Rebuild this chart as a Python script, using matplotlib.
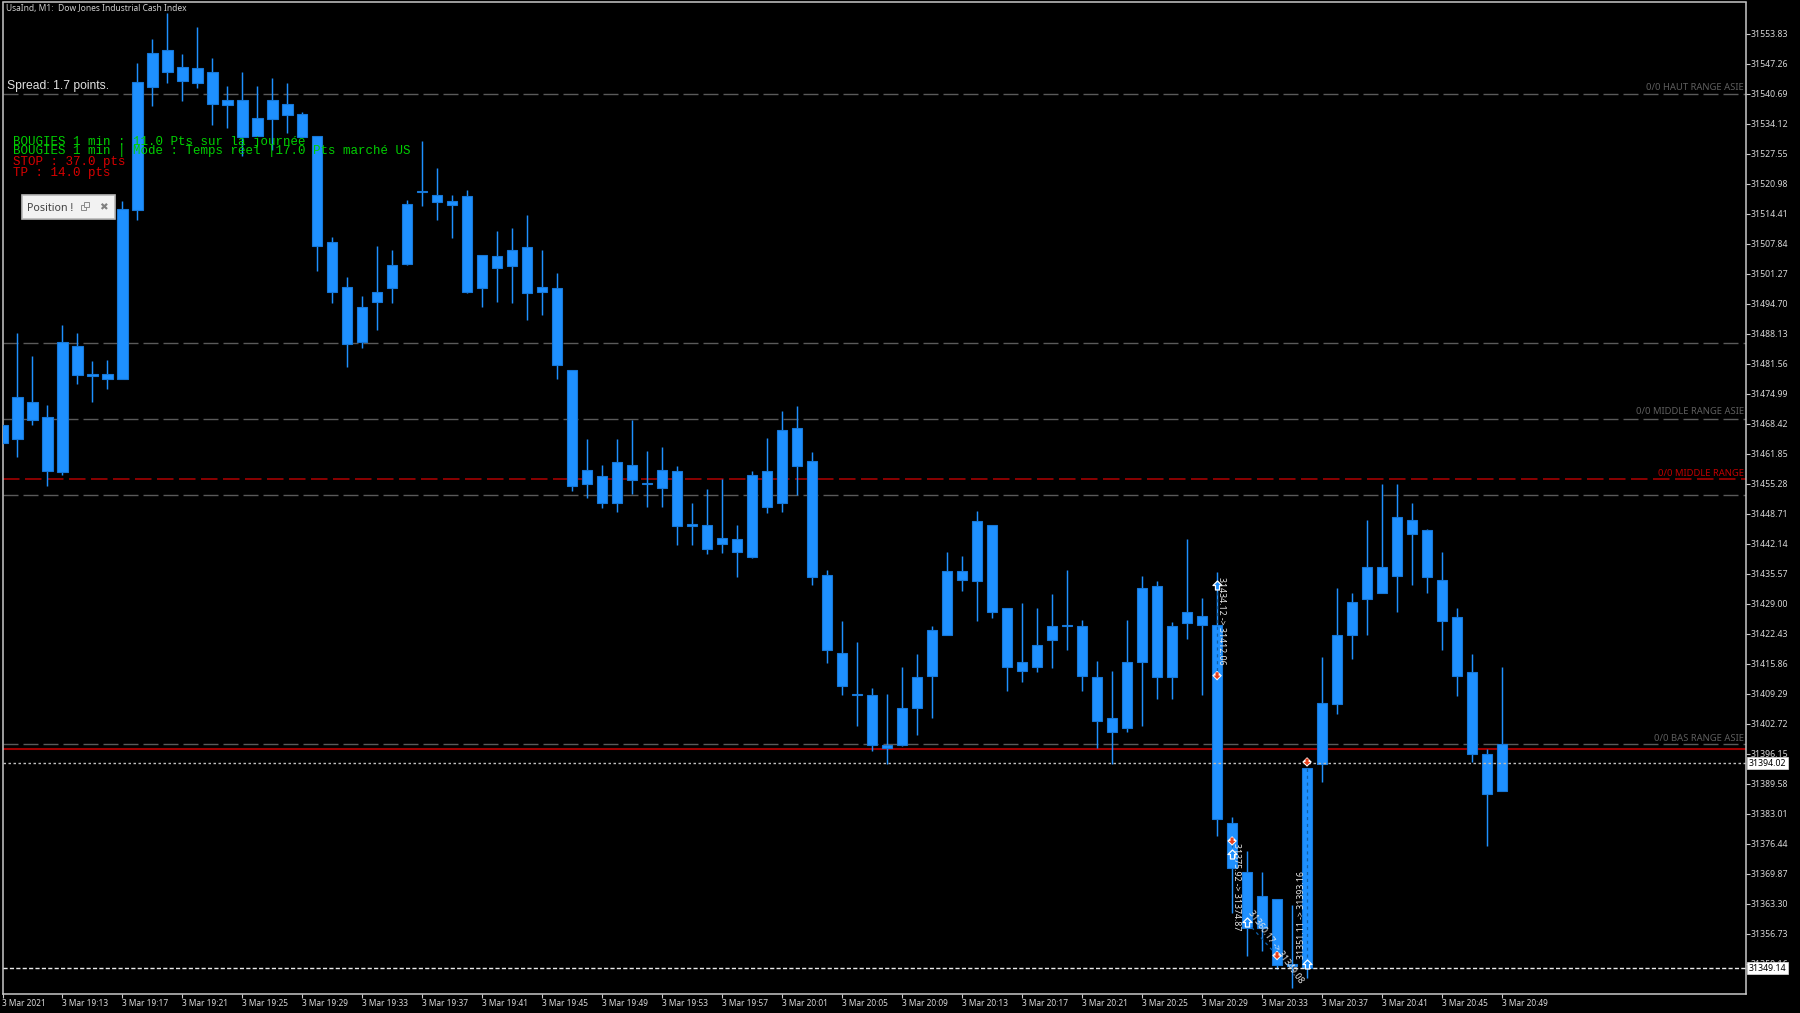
import matplotlib
matplotlib.use("Agg")
import matplotlib.pyplot as plt
from matplotlib.patches import Rectangle
from matplotlib.path import Path

# ---------- data (prices) ----------
high = [31468.1,31488.2,31483.3,31472.4,31490.1,31488.2,31482.1,31482.4,31517.2,31547.3,
        31552.6,31558.3,31549.3,31555.3,31548.4,31542.3,31545.4,31542.3,31544.0,31543.1,
        31536.6,31531.4,31509.2,31500.4,31496.3,31507.2,31506.4,31517.4,31530.2,31524.4,
        31518.4,31519.5,31505.3,31510.5,31511.2,31514.1,31506.4,31501.3,31480.2,31465.0,
        31459.3,31465.0,31469.2,31462.4,31463.2,31459.1,31451.0,31454.1,31456.2,31446.2,
        31458.1,31465.2,31471.2,31472.2,31462.1,31436.3,31425.1,31420.5,31410.5,31409.1,
        31415.1,31418.0,31424.0,31440.2,31439.4,31449.2,31446.2,31428.0,31429.1,31428.0,
        31431.1,31436.3,31425.4,31416.4,31414.2,31425.4,31435.0,31434.0,31425.0,31443.1,
        31430.2,31436.0,31382.3,31374.8,31370.2,31364.2,31363.0,31393.0,31417.2,31432.4,
        31431.3,31447.3,31455.2,31455.2,31451.0,31445.3,31440.2,31428.0,31418.0,31397.1,
        31415.1]
body_top = [31468.1,31474.3,31473.1,31469.9,31486.2,31485.4,31479.2,31479.2,31515.4,31543.3,
        31549.5,31550.2,31546.4,31546.2,31545.4,31539.2,31539.2,31535.3,31539.2,31538.4,
        31536.2,31531.4,31508.2,31498.3,31494.0,31497.3,31503.2,31516.4,31519.4,31518.4,
        31517.2,31518.3,31505.3,31505.1,31506.5,31507.1,31498.3,31498.1,31480.2,31458.3,
        31457.0,31460.1,31459.3,31455.4,31458.3,31458.1,31446.4,31446.2,31443.3,31443.1,
        31457.2,31458.1,31467.1,31467.5,31460.3,31435.2,31418.1,31409.2,31408.9,31398.1,
        31406.1,31413.0,31423.2,31436.1,31436.1,31447.1,31446.2,31428.0,31416.1,31420.0,
        31424.1,31424.2,31424.0,31413.0,31404.0,31416.1,31432.4,31432.9,31424.1,31427.2,
        31426.2,31424.2,31381.0,31370.2,31365.0,31364.2,31350.1,31393.0,31407.3,31422.1,
        31429.3,31437.1,31437.1,31448.0,31447.2,31445.1,31434.2,31426.0,31414.1,31396.1,
        31398.2]
body_bot = [31464.1,31465.1,31469.1,31458.1,31457.9,31479.1,31478.9,31478.1,31478.1,31515.1,
        31542.1,31545.3,31543.4,31543.0,31538.3,31538.1,31531.1,31531.4,31535.0,31536.0,
        31531.1,31507.3,31497.2,31485.9,31486.2,31495.1,31498.2,31503.4,31519.1,31517.0,
        31516.3,31497.2,31498.0,31502.4,31502.9,31497.0,31497.3,31481.2,31454.8,31455.2,
        31451.1,31451.0,31456.1,31455.2,31454.2,31445.9,31446.0,31441.0,31442.1,31440.2,
        31439.2,31450.1,31451.0,31459.1,31434.9,31418.9,31410.9,31409.0,31398.0,31397.3,
        31398.0,31406.2,31413.2,31422.2,31434.1,31433.9,31427.2,31415.0,31414.2,31415.2,
        31421.0,31424.0,31413.2,31403.2,31400.8,31401.8,31416.2,31413.0,31413.0,31424.8,
        31424.3,31381.9,31371.0,31357.9,31357.9,31349.9,31349.6,31349.1,31393.9,31407.0,
        31422.0,31430.0,31431.3,31435.1,31444.2,31434.9,31425.1,31413.2,31396.1,31387.2,
        31387.9]
low = [31464.1,31461.0,31468.0,31454.8,31457.1,31477.0,31473.1,31476.0,31478.1,31512.9,
        31538.0,31543.1,31539.1,31541.9,31533.9,31533.1,31527.1,31531.4,31528.3,31532.1,
        31531.1,31501.9,31494.9,31480.9,31485.0,31488.9,31494.9,31503.2,31516.0,31512.9,
        31509.0,31497.0,31494.0,31495.1,31494.9,31491.0,31492.2,31478.1,31453.7,31452.0,
        31449.9,31449.1,31453.0,31450.1,31450.1,31441.8,31441.8,31439.9,31440.0,31434.9,
        31438.9,31448.9,31449.1,31452.7,31433.1,31416.0,31409.0,31402.1,31396.7,31393.9,
        31397.9,31400.2,31403.9,31422.1,31431.8,31425.1,31425.9,31409.9,31411.9,31414.0,
        31414.8,31418.9,31409.9,31397.3,31393.9,31400.8,31402.1,31408.0,31408.0,31421.2,
        31409.0,31378.0,31361.2,31351.7,31353.0,31348.9,31344.8,31346.9,31389.9,31404.8,
        31416.8,31422.0,31431.3,31427.1,31433.1,31431.2,31418.9,31408.8,31394.2,31375.9,
        31387.9]

price_ticks = [31553.83,31547.26,31540.69,31534.12,31527.55,31520.98,31514.41,31507.84,
               31501.27,31494.70,31488.13,31481.56,31474.99,31468.42,31461.85,31455.28,
               31448.71,31442.14,31435.57,31429.00,31422.43,31415.86,31409.29,31402.72,
               31396.15,31389.58,31383.01,31376.44,31369.87,31363.30,31356.73,31350.16]
time_labels = ["3 Mar 2021","3 Mar 19:13","3 Mar 19:17","3 Mar 19:21","3 Mar 19:25","3 Mar 19:29",
               "3 Mar 19:33","3 Mar 19:37","3 Mar 19:41","3 Mar 19:45","3 Mar 19:49","3 Mar 19:53",
               "3 Mar 19:57","3 Mar 20:01","3 Mar 20:05","3 Mar 20:09","3 Mar 20:13","3 Mar 20:17",
               "3 Mar 20:21","3 Mar 20:25","3 Mar 20:29","3 Mar 20:33","3 Mar 20:37","3 Mar 20:41",
               "3 Mar 20:45","3 Mar 20:49"]
grey_levels = [31540.5,31486.1,31469.5,31452.7,31398.2]
red_dash_level = 31456.3
red_solid_level = 31397.2
bid_level = 31394.02
low_level = 31349.14

buy_idx = [81,82,83,87]
buy_price = [31433.0,31374.1,31359.2,31350.0]
sell_idx = [81,82,85,87]
sell_price = [31413.2,31377.0,31351.9,31394.3]

# ---------- figure ----------
W, H = 1800, 1013
BG = "#000000"
BLUE = "#1E90FF"
EDGE = "#1778D8"
AXC = "#C8C8C8"
fig = plt.figure(figsize=(W/100, H/100), dpi=100, facecolor=BG)
L, R, T, B = 2.5, 1746, 2.5, 993.5
ax = fig.add_axes([L/W, 1-B/H, (R-L)/W, (B-T)/H], facecolor=BG)
PER_PX = 0.219
P0 = 31561.17
ax.set_ylim(P0-PER_PX*B, P0-PER_PX*T)
ax.set_xlim(0.04, 0.04+(R-L)/15)

for s in ax.spines.values():
    s.set_color(AXC); s.set_linewidth(1.1)

UI = ["Noto Sans", "DejaVu Sans"]
ax.yaxis.tick_right()
ax.set_yticks(price_ticks, [f"{v:.2f}" for v in price_ticks], family=UI, fontsize=6.3, color="#D8D8D8",
              va="center_baseline")
ax.tick_params(axis="y", length=3, width=0.8, color=AXC, pad=0.5)
ax.set_xticks(list(range(0, 4*len(time_labels), 4)), time_labels, family=UI, fontsize=6.0, color="#D8D8D8", ha="left")
ax.tick_params(axis="x", length=3, width=0.8, color=AXC, pad=1.3)

# level lines
DASH = (10.8, 3.6)
for v in grey_levels:
    ax.axhline(v, color="#5A5A5A", lw=1.0, dashes=DASH, zorder=1)
ax.axhline(red_dash_level, color="#B00000", lw=1.1, dashes=DASH, zorder=1)
ax.axhline(red_solid_level, color="#A00000", lw=1.5, zorder=1)

# candles
x = list(range(len(high)))
ax.vlines(x, low, high, color=BLUE, lw=1.05, zorder=3)
ax.bar(x, [t-b for t, b in zip(body_top, body_bot)], bottom=body_bot, width=0.68,
       color=BLUE, edgecolor=EDGE, linewidth=0.8, zorder=4)

ax.axhline(bid_level, color="#BEBEBE", lw=1.0, dashes=(1.8, 1.8), zorder=5)
ax.axhline(low_level, color="#EAEAEA", lw=1.0, dashes=(3, 1.6), zorder=5)

# trade connectors
for a, pa, b, pb in zip(buy_idx, buy_price, sell_idx, sell_price):
    ax.plot([a, b], [pa, pb], color="#0E5FA8", lw=0.9, dashes=(2.5, 3), zorder=5)

# arrow-shaped trade markers
ARROW_UP = Path([(0, 1), (1, 0), (0.45, 0), (0.45, -1), (-0.45, -1), (-0.45, 0), (-1, 0), (0, 1)], closed=True)
ARROW_DN = Path([(0, -1), (1, 0), (0.45, 0), (0.45, 1), (-0.45, 1), (-0.45, 0), (-1, 0), (0, -1)], closed=True)
ax.scatter(buy_idx, buy_price, marker=ARROW_UP, s=42, color=BLUE, edgecolor="white", linewidth=0.9, zorder=7)
ax.scatter(sell_idx, sell_price, marker="D", s=24, color="white", edgecolor="none", zorder=7)
ax.scatter(sell_idx, sell_price, marker=ARROW_DN, s=24, color="#E8401C", edgecolor="none", zorder=8)

def px(xp, yp, s, **kw):
    fig.text(xp/W, 1-yp/H, s, **kw)

# price tags
for v in (bid_level, low_level):
    ax.annotate(f"{v:.2f}", xy=(1, v), xycoords=("axes fraction", "data"), xytext=(2.2, 0),
                textcoords="offset points", ha="left", va="center", family=UI, fontsize=6.3, color="black",
                bbox=dict(boxstyle="square,pad=0.18", fc="white", ec="#E0E0E0", lw=0.5),
                annotation_clip=False, zorder=10)

# header and overlays
px(6, 9, "UsaInd, M1:  Dow Jones Industrial Cash Index", family=UI, fontsize=6.1, color="#D0D0D0", va="center")
px(7, 86.5, "Spread: 1.7 points.", family=["Liberation Sans"], fontsize=8.7, color="#E0E0E0", va="center", zorder=8)
MONO = ["Liberation Mono"]
GREEN, RED = "#00D000", "#D80000"
px(13, 142, "BOUGIES 1 min : 11.0 Pts sur la journée", family=MONO, fontsize=9, color=GREEN, va="center", zorder=8)
px(13, 151, "BOUGIES 1 min | Mode : Temps réel |17.0 Pts marché US", family=MONO, fontsize=9, color=GREEN, va="center", zorder=8)
px(13, 162, "STOP : 37.0 pts", family=MONO, fontsize=9, color=RED, va="center", zorder=8)
px(13, 173, "TP : 14.0 pts", family=MONO, fontsize=9, color=RED, va="center", zorder=8)

# range labels
GREY = "#5E5E5E"
px(1744, 88, "0/0 HAUT RANGE ASIE", family=UI, fontsize=6.8, color=GREY, ha="right", va="center")
px(1744, 412, "0/0 MIDDLE RANGE ASIE", family=UI, fontsize=6.8, color=GREY, ha="right", va="center")
px(1744, 473, "0/0 MIDDLE RANGE", family=UI, fontsize=6.8, color="#C00000", ha="right", va="center")
px(1744, 738, "0/0 BAS RANGE ASIE", family=UI, fontsize=6.8, color=GREY, ha="right", va="center")

# trade labels
TL = dict(family=UI, fontsize=6.3, color="#E8E8E8", ha="center", va="center", zorder=9, rotation_mode="anchor")
px(1221.5, 621, "31434.12 -> 31412.06", rotation=-90, **TL)
px(1236.5, 887, "31375.92 -> 31374.87", rotation=-90, **TL)
px(1276, 947, "31360.17 -> 31349.08", rotation=-54, **TL)
px(1301, 915, "31351.11 -> 31393.16", rotation=90, **TL)

# floating "Position" window
fig.add_artist(Rectangle((22/W, 1-219/H), 93/W, 24/H, transform=fig.transFigure,
                         fc="#F2F2F2", ec="#B8B8B8", lw=1.2, zorder=8))
px(27, 208.5, "Position !", family=UI, fontsize=7.7, color="#404040", va="center", zorder=9)
for dx, dy in ((0, 0), (2.5, -2.5)):
    fig.add_artist(Rectangle(((81+dx)/W, 1-(210+dy)/H), 5/W, 5/H, transform=fig.transFigure,
                             fc="#F2F2F2", ec="#8A8A8A", lw=0.7, zorder=9))
px(103, 207.5, "✖", family=["DejaVu Sans"], fontsize=7.5, color="#808080", ha="center", va="center", zorder=9)

fig.savefig("out.png", dpi=100, facecolor=BG)
